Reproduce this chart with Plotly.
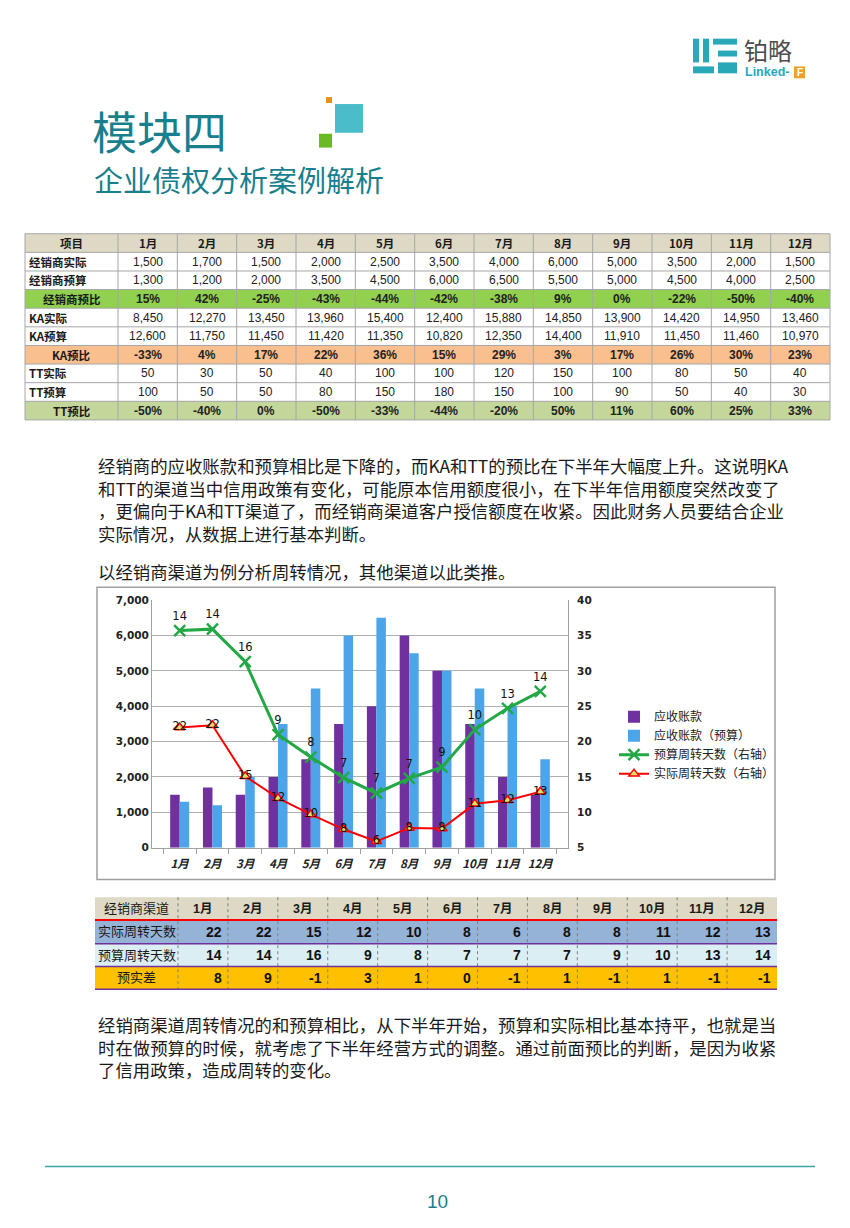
import plotly.graph_objects as go

W, H = 850, 1228

# ---------------- data ----------------
months = ['1月', '2月', '3月', '4月', '5月', '6月', '7月', '8月', '9月', '10月', '11月', '12月']

t1_header = '项目'
t1_labels = ['经销商实际', '经销商预算', '经销商预比', 'KA实际', 'KA预算', 'KA预比', 'TT实际', 'TT预算', 'TT预比']
dealer_actual = [1500, 1700, 1500, 2000, 2500, 3500, 4000, 6000, 5000, 3500, 2000, 1500]
dealer_budget = [1300, 1200, 2000, 3500, 4500, 6000, 6500, 5500, 5000, 4500, 4000, 2500]
dealer_ratio = ['15%', '42%', '-25%', '-43%', '-44%', '-42%', '-38%', '9%', '0%', '-22%', '-50%', '-40%']
ka_actual = [8450, 12270, 13450, 13960, 15400, 12400, 15880, 14850, 13900, 14420, 14950, 13460]
ka_budget = [12600, 11750, 11450, 11420, 11350, 10820, 12350, 14400, 11910, 11450, 11460, 10970]
ka_ratio = ['-33%', '4%', '17%', '22%', '36%', '15%', '29%', '3%', '17%', '26%', '30%', '23%']
tt_actual = [50, 30, 50, 40, 100, 100, 120, 150, 100, 80, 50, 40]
tt_budget = [100, 50, 50, 80, 150, 180, 150, 100, 90, 50, 40, 30]
tt_ratio = ['-50%', '-40%', '0%', '-50%', '-33%', '-44%', '-20%', '50%', '11%', '60%', '25%', '33%']

t2_header = '经销商渠道'
t2_labels = ['实际周转天数', '预算周转天数', '预实差']
actual_days = [22, 22, 15, 12, 10, 8, 6, 8, 8, 11, 12, 13]
budget_days = [14, 14, 16, 9, 8, 7, 7, 7, 9, 10, 13, 14]
diff_days = [8, 9, -1, 3, 1, 0, -1, 1, -1, 1, -1, -1]

# plotted positions of the turnover lines on the right axis (as drawn in the chart)
budget_days_plot = [35.7, 35.9, 31.3, 21.0, 17.8, 14.9, 12.7, 14.8, 16.4, 21.7, 24.7, 27.1]
actual_days_plot = [22.0, 22.3, 15.1, 12.0, 9.7, 7.6, 5.9, 7.8, 7.7, 11.2, 11.7, 12.9]

series_names = ['应收账款', '应收账款（预算）', '预算周转天数（右轴）', '实际周转天数（右轴）']

para1 = ['经销商的应收账款和预算相比是下降的，而KA和TT的预比在下半年大幅度上升。这说明KA',
         '和TT的渠道当中信用政策有变化，可能原本信用额度很小，在下半年信用额度突然改变了',
         '，更偏向于KA和TT渠道了，而经销商渠道客户授信额度在收紧。因此财务人员要结合企业',
         '实际情况，从数据上进行基本判断。']
para2 = ['以经销商渠道为例分析周转情况，其他渠道以此类推。']
para3 = ['经销商渠道周转情况的和预算相比，从下半年开始，预算和实际相比基本持平，也就是当',
         '时在做预算的时候，就考虑了下半年经营方式的调整。通过前面预比的判断，是因为收紧',
         '了信用政策，造成周转的变化。']

title = '模块四'
subtitle = '企业债权分析案例解析'
page_no = '10'

# ---------------- helpers ----------------
def X(x):
    return x / W

def Y(y):
    return 1 - y / H

CJK = 'Noto Sans CJK SC'
TEAL = '#1A7F8C'
shapes = []
annos = []

def rect(x0, y0, x1, y1, fill=None, line=None, lw=0, dash=None, layer='above'):
    d = dict(type='rect', xref='paper', yref='paper', x0=X(x0), x1=X(x1), y0=Y(y1), y1=Y(y0),
             line=dict(width=lw, color=line or 'rgba(0,0,0,0)'), layer=layer)
    if dash:
        d['line']['dash'] = dash
    if fill:
        d['fillcolor'] = fill
    shapes.append(d)

def hline(x0, x1, y, color, lw=1, dash=None):
    d = dict(type='line', xref='paper', yref='paper', x0=X(x0), x1=X(x1), y0=Y(y), y1=Y(y),
             line=dict(color=color, width=lw))
    if dash:
        d['line']['dash'] = dash
    shapes.append(d)

def vline(x, y0, y1, color, lw=1, dash=None):
    d = dict(type='line', xref='paper', yref='paper', x0=X(x), x1=X(x), y0=Y(y0), y1=Y(y1),
             line=dict(color=color, width=lw))
    if dash:
        d['line']['dash'] = dash
    shapes.append(d)

def text(x, y, s, size=12, color='#1a1a1a', family=CJK, anchor='left', weight='normal', style='normal'):
    annos.append(dict(xref='paper', yref='paper', x=X(x), y=Y(y), text=s, showarrow=False,
                      xanchor=anchor, yanchor='middle', align=anchor if anchor != 'center' else 'center',
                      font=dict(size=size, color=color, family=family, weight=weight, style=style)))

# ---------------- header / logo ----------------
LOGO = '#29A8B8'
for (a, b, c, d) in [(693, 33, 699, 57), (703, 33, 709, 57), (693, 61, 714, 68),
                     (713, 33, 737, 39), (718, 45, 737, 51), (718, 57, 737, 68)]:
    rect(a, b, c, d, fill=LOGO)
text(742, 44, '铂略', size=24, color='#4d4d4d')
text(743, 67, 'Linked-', size=12.5, color=LOGO, family='Liberation Sans', weight='bold')
rect(794, 61, 805, 73, fill='#F0A030')
text(799.5, 67, 'F', size=10, color='white', family='Liberation Sans', anchor='center', weight='bold')

# decorative squares
rect(326, 92, 332, 98, fill='#E8901A')
rect(335, 99, 363, 128, fill='#4BBCC9')
rect(319, 129, 332, 143, fill='#6DB825')

text(90, 126, title, size=45, color=TEAL)
text(92, 175, subtitle, size=29, color=TEAL)

# ---------------- table 1 ----------------
t1_x0, t1_c0, t1_x1 = 25, 118, 830
cw1 = (t1_x1 - t1_c0) / 12
t1_y0, rh1 = 230, 18.8
rows1 = [dealer_actual, dealer_budget, dealer_ratio, ka_actual, ka_budget, ka_ratio,
         tt_actual, tt_budget, tt_ratio]
fills1 = ['white', 'white', '#92D050', 'white', 'white', '#FABF8F', 'white', 'white', '#C4D79B']
GRID1 = '#A6A6A6'

rect(t1_x0, t1_y0, t1_x1, t1_y0 + rh1, fill='#DDD9C4', layer='below')
for r, f in enumerate(fills1):
    yy = t1_y0 + rh1 * (r + 1)
    rect(t1_x0, yy, t1_x1, yy + rh1, fill=f, layer='below')
for r in range(11):
    hline(t1_x0, t1_x1, t1_y0 + rh1 * r, GRID1, 1)
vline(t1_x0, t1_y0, t1_y0 + rh1 * 10, GRID1, 1)
for c in range(13):
    vline(t1_c0 + cw1 * c, t1_y0, t1_y0 + rh1 * 10, GRID1, 1)

cy = t1_y0 + rh1 / 2
text((t1_x0 + t1_c0) / 2, cy, '<b>%s</b>' % t1_header, size=11.5, anchor='center')
for c, m in enumerate(months):
    text(t1_c0 + cw1 * (c + 0.5), cy, '<b>%s</b>' % m, size=11.5, anchor='center')
for r, (lab, vals) in enumerate(zip(t1_labels, rows1)):
    cy = t1_y0 + rh1 * (r + 1.5)
    is_ratio = isinstance(vals[0], str)
    if is_ratio:
        text((t1_x0 + t1_c0) / 2, cy, '<b>%s</b>' % lab, size=11.5, anchor='center')
    else:
        text(t1_x0 + 2, cy, '<b>%s</b>' % lab, size=11.5, anchor='left')
    for c, v in enumerate(vals):
        if is_ratio:
            s = '<b>%s</b>' % v
        else:
            s = '{:,}'.format(v)
        text(t1_c0 + cw1 * (c + 0.5), cy, s, size=12, anchor='center', family='Liberation Sans', color='#222')

# ---------------- paragraphs ----------------
PF = 17.4
def para(lines, y_first, gap=23):
    n = len(lines)
    yc = y_first + gap * (n - 1) / 2
    text(96, yc, '<br>'.join(lines), size=PF)

para(para1, 464)
para(para2, 571)
para(para3, 1028)

# ---------------- chart ----------------
rect(97, 587, 775, 882, line='#A0A0A0', lw=1.5, layer='below')

fig = go.Figure()
fig.add_trace(go.Bar(x=months, y=dealer_actual, name=series_names[0], marker_color='#7030A0',
                     marker_line_width=0))
fig.add_trace(go.Bar(x=months, y=dealer_budget, name=series_names[1], marker_color='#4BA5E8',
                     marker_line_width=0))
fig.add_trace(go.Scatter(x=months, y=budget_days_plot, yaxis='y2', name=series_names[2],
                         mode='lines+markers+text', text=[str(v) for v in budget_days],
                         textposition='top center',
                         textfont=dict(size=11.5, color='#111', family='DejaVu Sans'),
                         line=dict(color='#22A845', width=3),
                         marker=dict(symbol='x-thin', size=11, line=dict(color='#22A845', width=2.5))))
fig.add_trace(go.Scatter(x=months, y=actual_days_plot, yaxis='y2', name=series_names[3],
                         mode='lines+markers+text', text=[str(v) for v in actual_days],
                         textposition='middle center',
                         textfont=dict(size=11.5, color='#111', family='DejaVu Sans'),
                         line=dict(color='#FF0000', width=2),
                         marker=dict(symbol='triangle-up', size=9, color='#D9E36A',
                                     line=dict(color='#FF0000', width=1.5))))

AX = '#A0A0A0'
fig.update_layout(
    xaxis=dict(domain=[X(152), X(568)], anchor='y', type='category', showgrid=False,
               showline=True, linecolor=AX, linewidth=1, ticks='outside', tickson='boundaries',
               ticklen=5, tickcolor=AX, tickangle=0, ticklabelstandoff=6,
               tickfont=dict(size=11.5, color='#222', family=CJK, style='italic', weight='bold')),
    yaxis=dict(domain=[Y(850), Y(600)], range=[0, 7000], dtick=1000, tickformat=',',
               showgrid=True, gridcolor='#B0B0B0', gridwidth=1, zeroline=False,
               showline=True, linecolor=AX, linewidth=1, ticks='',
               tickfont=dict(size=10.5, color='#222', family='DejaVu Sans', weight='bold')),
    yaxis2=dict(overlaying='y', side='right', anchor='x', range=[5, 40], dtick=5,
                showgrid=False, zeroline=False, showline=True, linecolor=AX, linewidth=1,
                ticks='', ticklabelstandoff=6,
                tickfont=dict(size=10.5, color='#222', family='DejaVu Sans', weight='bold')),
    barmode='group', bargap=0.42, bargroupgap=0,
    legend=dict(x=X(614), y=Y(703), xanchor='left', yanchor='top', bgcolor='rgba(0,0,0,0)',
                font=dict(size=12, color='#222', family=CJK), tracegroupgap=0, itemwidth=30),
    showlegend=True,
)

# ---------------- table 2 ----------------
t2_x0, t2_c0, t2_x1 = 95, 178, 777
cw2 = (t2_x1 - t2_c0) / 12
t2_rows_y = [900, 923, 947, 970, 993]
fills2 = ['#DDD9C4', '#95B3D7', '#DAEEF3', '#FFC000']
for r, f in enumerate(fills2):
    rect(t2_x0, t2_rows_y[r], t2_x1, t2_rows_y[r + 1], fill=f, layer='below')
for c in range(1, 13):
    vline(t2_c0 + cw2 * (c - 1), 900, 993, '#7F7F7F', 1, dash='dot')
hline(t2_x0, t2_x1, 923, '#FF0000', 2)
for yy in [947, 970, 993]:
    hline(t2_x0, t2_x1, yy, '#7030A0', 1.5)

NAR = 'Liberation Sans Narrow, Liberation Sans, ' + CJK
cy = (t2_rows_y[0] + t2_rows_y[1]) / 2
text((t2_x0 + t2_c0) / 2, cy, t2_header, size=13, anchor='center', family=NAR)
for c, m in enumerate(months):
    text(t2_c0 + cw2 * (c + 0.5), cy, '<b>%s</b>' % m, size=12.5, anchor='center', family=NAR)
for r, (lab, vals) in enumerate(zip(t2_labels, [actual_days, budget_days, diff_days])):
    cy = (t2_rows_y[r + 1] + t2_rows_y[r + 2]) / 2
    text((t2_x0 + t2_c0) / 2, cy, lab, size=13, anchor='center', family=NAR)
    for c, v in enumerate(vals):
        text(t2_c0 + cw2 * (c + 1) - 4, cy, '<b>%d</b>' % v, size=14, anchor='right', family=NAR,
             color='#111')

# ---------------- footer ----------------
hline(45, 815, 1172, '#3AA6A6', 1.5)
text(437, 1207, page_no, size=19, anchor='center', color=TEAL, family='Liberation Sans Narrow, Liberation Sans')

fig.update_layout(
    width=W, height=H, autosize=False,
    margin=dict(l=0, r=0, t=0, b=0, pad=0),
    paper_bgcolor='white', plot_bgcolor='white',
    font=dict(family=CJK, color='#1a1a1a'),
    shapes=shapes, annotations=annos,
)

fig.write_html('out.html', config={'displayModeBar': False},
               post_script="document.body.style.margin='0px';")
